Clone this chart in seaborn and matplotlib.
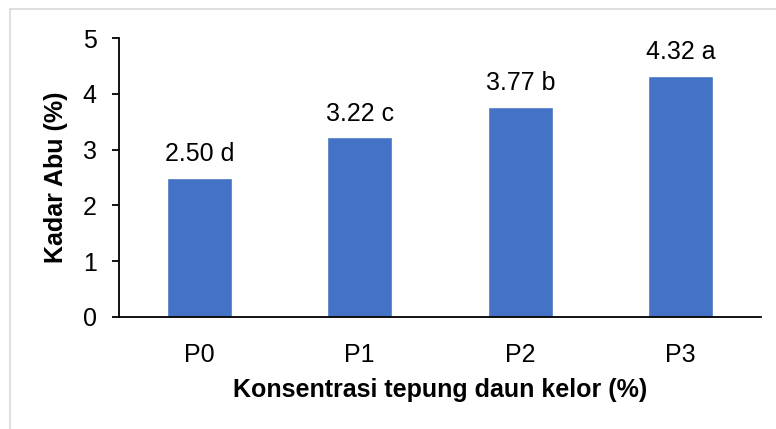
import matplotlib
matplotlib.use("Agg")
import matplotlib.pyplot as plt
from matplotlib.lines import Line2D
import seaborn as sns
import pandas as pd

categories = ["P0", "P1", "P2", "P3"]
values = [2.50, 3.22, 3.77, 4.32]
letters = ["d", "c", "b", "a"]

sns.set_theme(style="white")
plt.rcParams["font.family"] = ["Liberation Sans", "DejaVu Sans"]

df = pd.DataFrame({"Perlakuan": categories, "Kadar Abu": values})

W, H = 776, 429
FS = 18
fig = plt.figure(figsize=(W / 100, H / 100), dpi=100)
ax = fig.add_axes([119 / W, 1 - 317 / H, (761 - 119) / W, (317 - 38) / H])

sns.barplot(data=df, x="Perlakuan", y="Kadar Abu", color="#4472C4",
            saturation=1, width=0.405, ax=ax)

ax.set_ylim(0, 5)
ax.set_xlim(-0.5, 3.5)
ax.set_yticks([0, 1, 2, 3, 4, 5])

for i, (v, l) in enumerate(zip(values, letters)):
    ax.annotate(f"{v:.2f} {l}", (i, v), xytext=(0, 12), textcoords="offset points",
                ha="center", va="baseline", fontsize=FS, color="#000000")

for s in ["top", "right"]:
    ax.spines[s].set_visible(False)
for s in ["left", "bottom"]:
    ax.spines[s].set_color("#000000")
    ax.spines[s].set_linewidth(1.3)

ax.tick_params(axis="y", which="both", left=True, length=5, width=1.3,
               color="#000000", labelsize=FS, labelcolor="#000000", pad=11)
ax.tick_params(axis="x", bottom=False, labelsize=FS, labelcolor="#000000", pad=13)

ax.set_xlabel("Konsentrasi tepung daun kelor (%)", fontsize=FS, fontweight="bold",
              color="#000000", labelpad=8)
ax.set_ylabel("Kadar Abu (%)", fontsize=FS, fontweight="bold", color="#000000",
              labelpad=11)

# light frame on the top and left edges
fig.add_artist(Line2D([9.5 / W, 9.5 / W], [0, 1 - 8.5 / H], transform=fig.transFigure,
                      color="#D9D9D9", lw=1.2))
fig.add_artist(Line2D([9.5 / W, 1], [1 - 8.5 / H, 1 - 8.5 / H], transform=fig.transFigure,
                      color="#D9D9D9", lw=1.2))

fig.savefig("out.png", dpi=100)
